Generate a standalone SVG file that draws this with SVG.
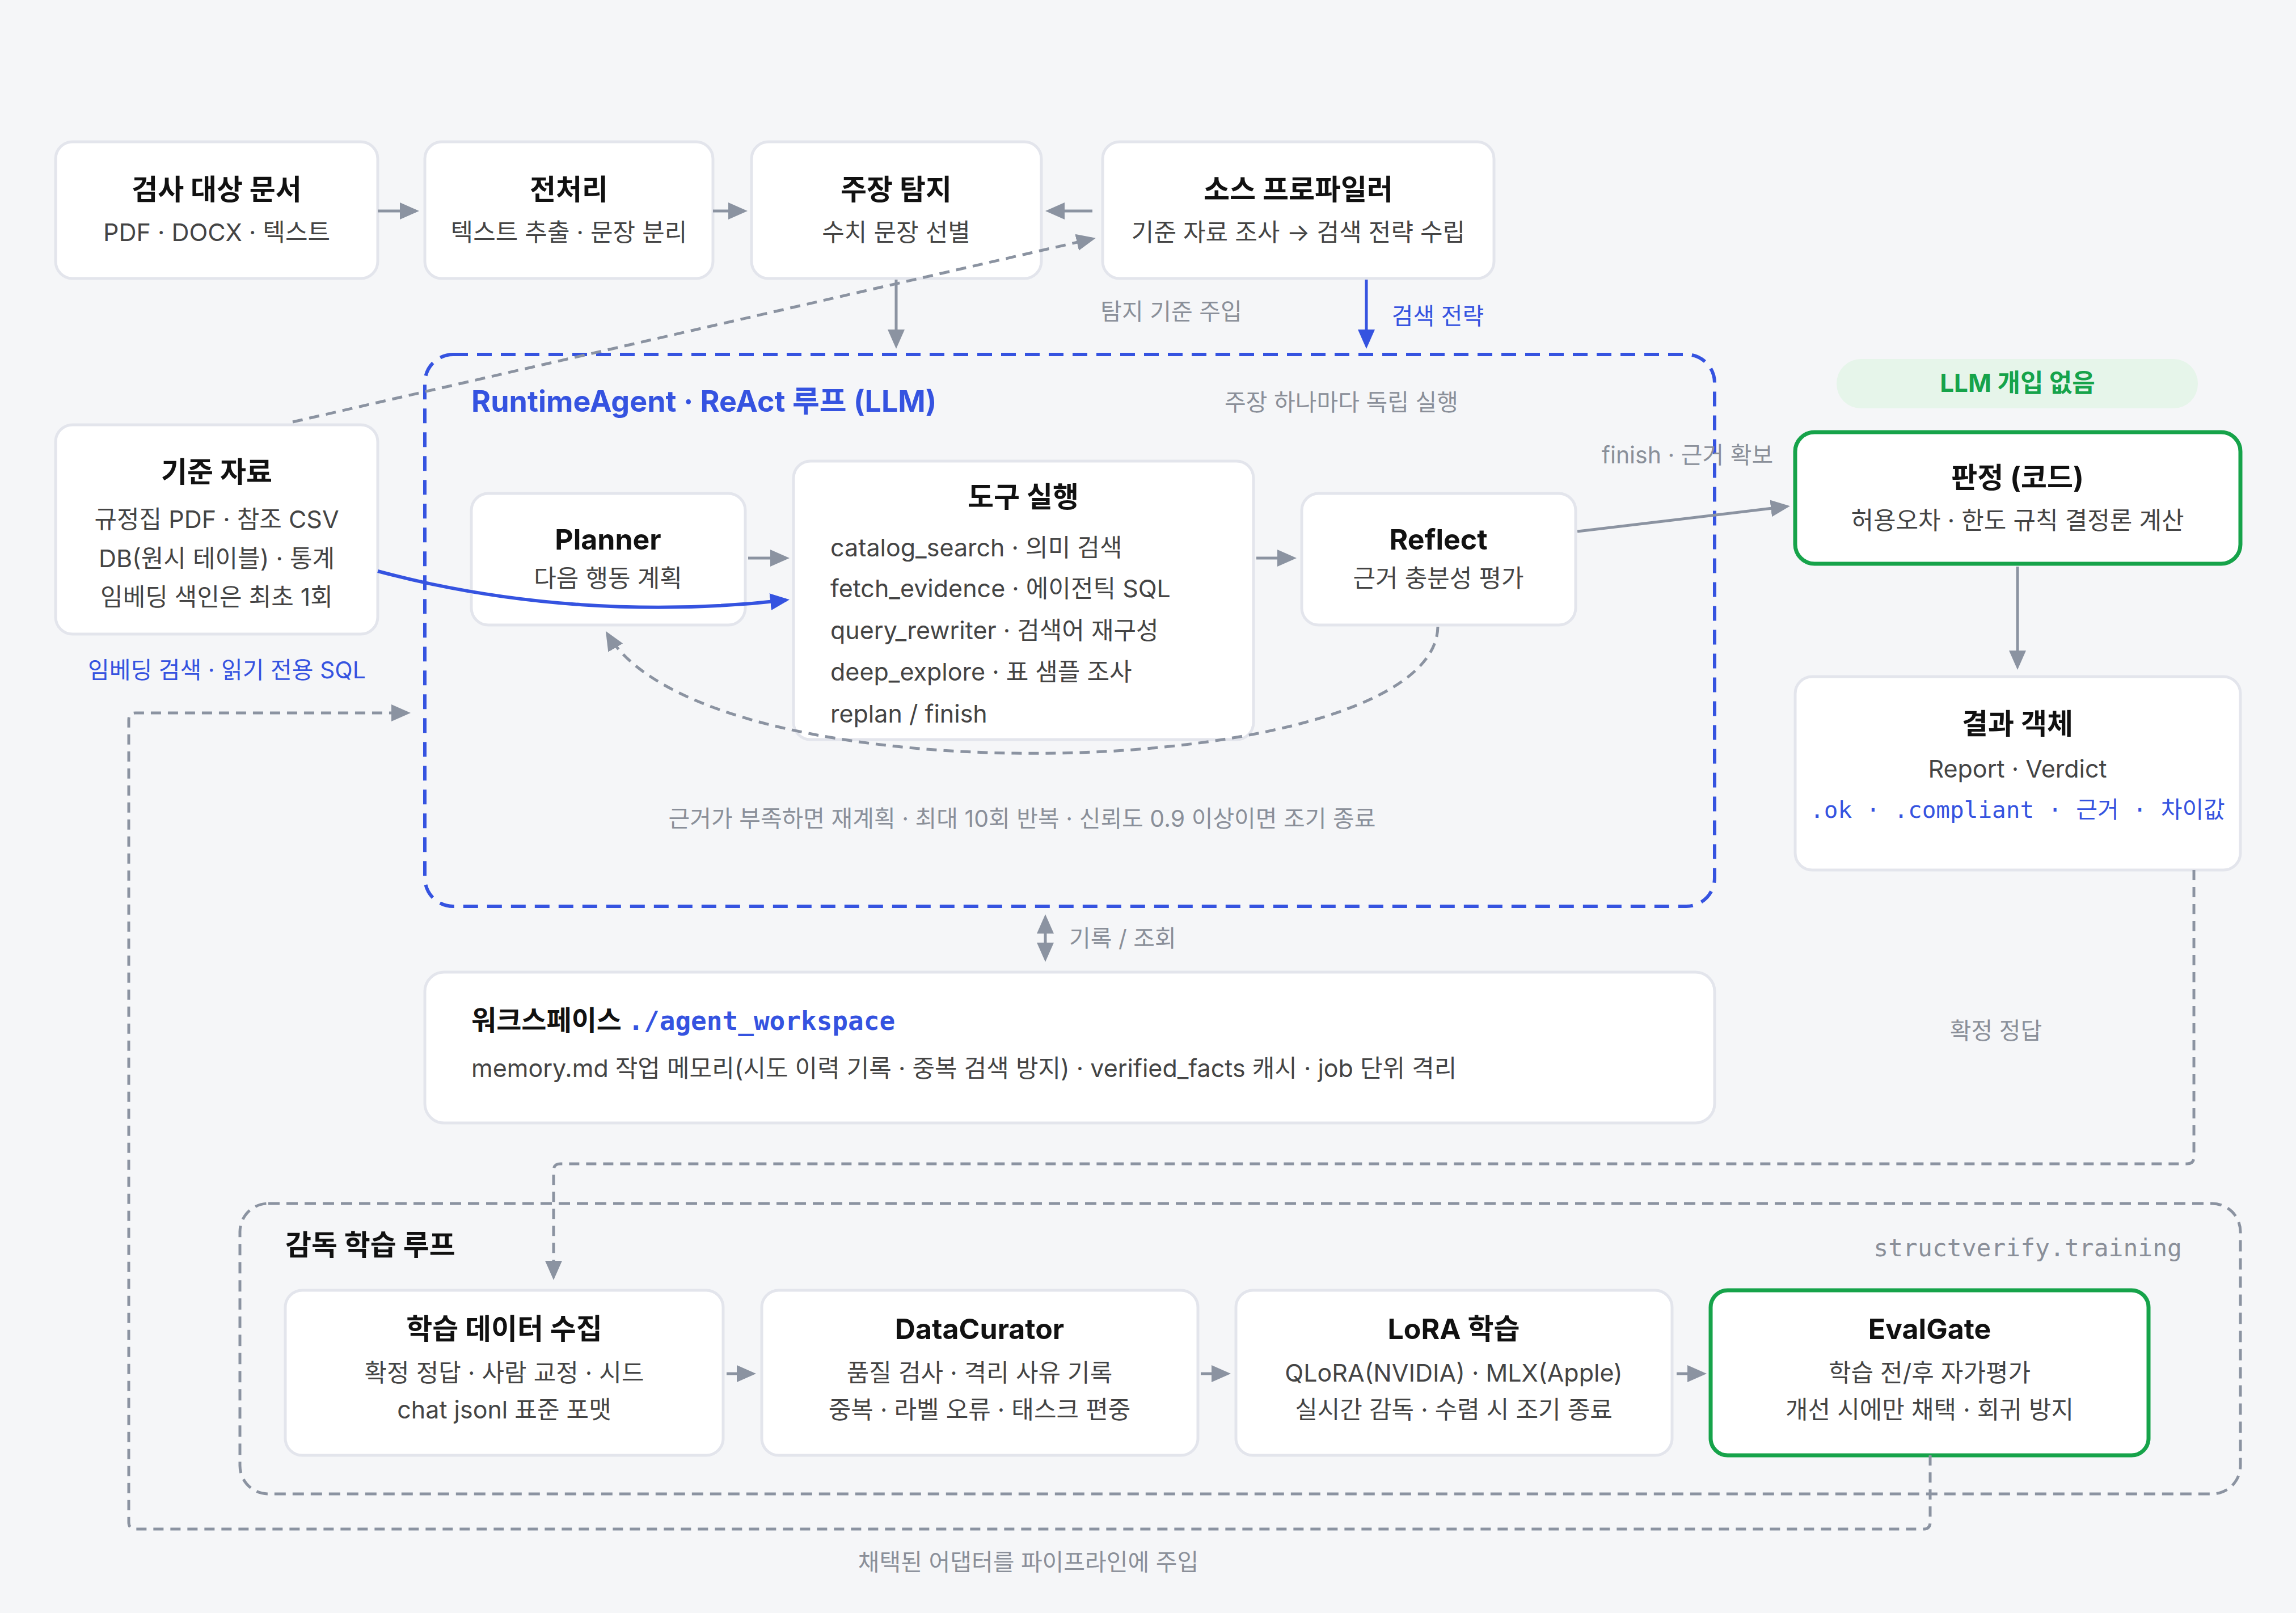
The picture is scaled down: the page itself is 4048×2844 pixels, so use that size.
<svg xmlns="http://www.w3.org/2000/svg" width="4048" height="2844" viewBox="0 0 4048 2844">
<style>
text{font-family:Inter,"Noto Sans CJK KR",sans-serif}
.n{fill:#fff;stroke:#e3e5ec;stroke-width:5}
.g{fill:#fff;stroke:#16a34a;stroke-width:7}
.t{font-size:50px;font-weight:700;fill:#111;text-anchor:middle}
.s{font-size:43px;fill:#444;text-anchor:middle}
.l{font-size:43px;fill:#444}
.m{font-size:41px;fill:#8a8f99}
.b{fill:#3553e0}
.mono{font-family:"DejaVu Sans Mono","Liberation Mono","Noto Sans CJK KR",monospace}
.a{stroke:#8b93a1;stroke-width:5;fill:none}
.d{stroke:#8b93a1;stroke-width:5;fill:none;stroke-dasharray:18 12}
</style>
<defs>
<marker id="ag" markerWidth="34" markerHeight="34" refX="28" refY="17" orient="auto-start-reverse" markerUnits="userSpaceOnUse" viewBox="0 0 34 34"><path d="M0 2L34 17L0 32z" fill="#8b93a1"/></marker>
<marker id="ab" markerWidth="34" markerHeight="34" refX="28" refY="17" orient="auto" markerUnits="userSpaceOnUse" viewBox="0 0 34 34"><path d="M0 2L34 17L0 32z" fill="#3553e0"/></marker>
</defs>
<rect width="4048" height="2844" fill="#f5f6f8"/>
<g id="groups">
<rect x="749" y="625" width="2274" height="973" rx="50" fill="none" stroke="#3553e0" stroke-width="6" stroke-dasharray="26 16"/>
<text x="831" y="726" font-size="52" font-weight="700" class="b">RuntimeAgent · ReAct 루프 (LLM)</text>
<text x="2365" y="724" class="m" text-anchor="middle">주장 하나마다 독립 실행</text>
<text x="1802" y="1458" class="m" text-anchor="middle">근거가 부족하면 재계획 · 최대 10회 반복 · 신뢰도 0.9 이상이면 조기 종료</text>
<rect x="423" y="2122" width="3527" height="512" rx="50" fill="none" stroke="#8b93a1" stroke-width="5" stroke-dasharray="20 12"/>
<text x="503" y="2213" font-size="50" font-weight="700" fill="#111">감독 학습 루프</text>
<text x="3847" y="2215" font-size="43" fill="#8a8f99" text-anchor="end" class="mono">structverify.training</text>
<rect x="3238" y="633" width="637" height="87" rx="43" fill="#e6f5ea"/>
<text x="3557" y="691" font-size="44" font-weight="700" fill="#16a34a" text-anchor="middle">LLM 개입 없음</text>
</g>
<g id="n1"><rect class="n" x="98" y="250" width="568" height="241" rx="30"/><text class="t" x="382" y="352">검사 대상 문서</text><text class="s" x="382" y="425">PDF · DOCX · 텍스트</text></g>
<g id="n2"><rect class="n" x="749" y="250" width="508" height="241" rx="30"/><text class="t" x="1003" y="352">전처리</text><text class="s" x="1003" y="425">텍스트 추출 · 문장 분리</text></g>
<g id="n3"><rect class="n" x="1325" y="250" width="511" height="241" rx="30"/><text class="t" x="1580" y="352">주장 탐지</text><text class="s" x="1580" y="425">수치 문장 선별</text></g>
<g id="n4"><rect class="n" x="1944" y="250" width="690" height="241" rx="30"/><text class="t" x="2289" y="352">소스 프로파일러</text><text class="s" x="2289" y="425">기준 자료 조사 → 검색 전략 수립</text></g>
<g id="n5"><rect class="n" x="98" y="749" width="568" height="369" rx="30"/><text class="t" x="382" y="850">기준 자료</text><text class="s" x="382" y="931">규정집 PDF · 참조 CSV</text><text class="s" x="382" y="1000">DB(원시 테이블) · 통계</text><text class="s" x="382" y="1068">임베딩 색인은 최초 1회</text></g>
<g id="n6"><rect class="n" x="831" y="870" width="483" height="232" rx="30"/><text class="t" x="1072" y="969">Planner</text><text class="s" x="1072" y="1035">다음 행동 계획</text></g>
<g id="n7"><rect class="n" x="1399" y="813" width="811" height="491" rx="30"/><text class="t" x="1804" y="894">도구 실행</text>
<text class="l" x="1464" y="981">catalog_search · 의미 검색</text><text class="l" x="1464" y="1053">fetch_evidence · 에이전틱 SQL</text><text class="l" x="1464" y="1127">query_rewriter · 검색어 재구성</text><text class="l" x="1464" y="1200">deep_explore · 표 샘플 조사</text><text class="l" x="1464" y="1274">replan / finish</text></g>
<g id="n8"><rect class="n" x="2295" y="870" width="483" height="232" rx="30"/><text class="t" x="2536" y="969">Reflect</text><text class="s" x="2536" y="1035">근거 충분성 평가</text></g>
<g id="n9"><rect class="g" x="3165" y="762" width="785" height="232" rx="34"/><text class="t" x="3557" y="860">판정 (코드)</text><text class="s" x="3557" y="933">허용오차 · 한도 규칙 결정론 계산</text></g>
<g id="n10"><rect class="n" x="3165" y="1193" width="785" height="341" rx="30"/><text class="t" x="3557" y="1294">결과 객체</text><text class="s" x="3557" y="1371">Report · Verdict</text><text x="3557" y="1442" font-size="41" text-anchor="middle" class="b mono">.ok · .compliant · 근거 · 차이값</text></g>
<g id="n11"><rect class="n" x="749" y="1714" width="2274" height="266" rx="34"/><text x="831" y="1816" font-size="48" font-weight="700" fill="#111">워크스페이스 <tspan class="b mono" font-size="46">./agent_workspace</tspan></text><text class="l" x="831" y="1899">memory.md 작업 메모리(시도 이력 기록 · 중복 검색 방지) · verified_facts 캐시 · job 단위 격리</text></g>
<g id="n12"><rect class="n" x="503" y="2275" width="772" height="291" rx="30"/><text class="t" x="889" y="2361">학습 데이터 수집</text><text class="s" x="889" y="2436">확정 정답 · 사람 교정 · 시드</text><text class="s" x="889" y="2501">chat jsonl 표준 포맷</text></g>
<g id="n13"><rect class="n" x="1343" y="2275" width="769" height="291" rx="30"/><text class="t" x="1727" y="2361">DataCurator</text><text class="s" x="1727" y="2436">품질 검사 · 격리 사유 기록</text><text class="s" x="1727" y="2501">중복 · 라벨 오류 · 태스크 편중</text></g>
<g id="n14"><rect class="n" x="2179" y="2275" width="769" height="291" rx="30"/><text class="t" x="2563" y="2361">LoRA 학습</text><text class="s" x="2563" y="2436">QLoRA(NVIDIA) · MLX(Apple)</text><text class="s" x="2563" y="2501">실시간 감독 · 수렴 시 조기 종료</text></g>
<g id="n15"><rect class="g" x="3016" y="2275" width="772" height="291" rx="30"/><text class="t" x="3402" y="2361">EvalGate</text><text class="s" x="3402" y="2436">학습 전/후 자가평가</text><text class="s" x="3402" y="2501">개선 시에만 채택 · 회귀 방지</text></g>
<g id="connectors">
<path class="d" d="M516 744L1926 421" marker-end="url(#ag)"/>
<line class="a" x1="666" y1="372" x2="733" y2="372" marker-end="url(#ag)" stroke-width="6"/>
<line class="a" x1="1257" y1="372" x2="1312" y2="372" marker-end="url(#ag)" stroke-width="6"/>
<line class="a" x1="1926" y1="372" x2="1849" y2="372" marker-end="url(#ag)" stroke-width="6"/>
<line class="a" x1="1580" y1="493" x2="1580" y2="609" marker-end="url(#ag)"/>
<text x="2065" y="564" class="m" text-anchor="middle">탐지 기준 주입</text>
<line x1="2409" y1="493" x2="2409" y2="609" stroke="#3553e0" stroke-width="5" marker-end="url(#ab)"/>
<text x="2535" y="572" font-size="41" class="b" text-anchor="middle">검색 전략</text>
<path d="M666 1007C900 1070 1150 1085 1386 1058" fill="none" stroke="#3553e0" stroke-width="6" marker-end="url(#ab)"/>
<text x="400" y="1196" font-size="41" class="b" text-anchor="middle">임베딩 검색 · 읽기 전용 SQL</text>
<line class="a" x1="1319" y1="984" x2="1386" y2="984" marker-end="url(#ag)" stroke-width="6"/>
<line class="a" x1="2215" y1="984" x2="2280" y2="984" marker-end="url(#ag)" stroke-width="6"/>
<path class="d" d="M2535 1105C2530 1380 1250 1420 1071 1118" marker-end="url(#ag)"/>
<line class="a" x1="2781" y1="937" x2="3150" y2="893" marker-end="url(#ag)" stroke-width="6"/>
<text x="2975" y="817" class="m" text-anchor="middle">finish · 근거 확보</text>
<line class="a" x1="3557" y1="999" x2="3557" y2="1175" marker-end="url(#ag)"/>
<line class="a" x1="1843" y1="1618" x2="1843" y2="1690" marker-end="url(#ag)" marker-start="url(#ag)" stroke-width="6"/>
<text x="1885" y="1669" class="m">기록 / 조회</text>
<text x="3519" y="1832" class="m" text-anchor="middle">확정 정답</text>
<path class="d" d="M3868 1534V2040Q3868 2052 3856 2052H988Q976 2052 976 2064V2251" marker-end="url(#ag)"/>
<line class="a" x1="1281" y1="2422" x2="1327" y2="2422" marker-end="url(#ag)" stroke-width="6"/>
<line class="a" x1="2117" y1="2422" x2="2164" y2="2422" marker-end="url(#ag)" stroke-width="6"/>
<line class="a" x1="2956" y1="2422" x2="3003" y2="2422" marker-end="url(#ag)" stroke-width="6"/>
<path class="d" d="M3403 2566V2684Q3403 2696 3391 2696H239Q227 2696 227 2684V1269Q227 1257 239 1257H718" marker-end="url(#ag)"/>
<text x="1813" y="2769" class="m" text-anchor="middle">채택된 어댑터를 파이프라인에 주입</text>
</g>
</svg>
